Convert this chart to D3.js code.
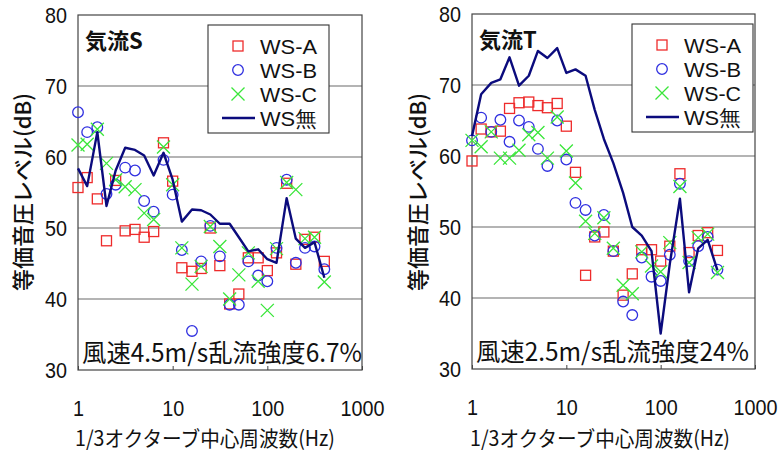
<!DOCTYPE html>
<html>
<head>
<meta charset="utf-8">
<script src="https://cdn.jsdelivr.net/npm/d3@7"></script>
<style>
  body { margin: 0; background: #fff; }
  text { fill: #111; }
</style>
</head>
<body>
<svg id="chart" width="783" height="455"></svg>
<script>
// 1/3 octave band centre frequencies (Hz)
const freqs = [1, 1.25, 1.6, 2, 2.5, 3.15, 4, 5, 6.3, 8, 10, 12.5, 16, 20, 25, 31.5, 40, 50, 63, 80, 100, 125, 160, 200, 250, 315, 400];

// Flow S: equivalent sound pressure level (dB)
const sA    = [55.7, 57.1, 54.1, 48.2, 56.7, 49.6, 49.8, 48.7, 49.5, 62.0, 56.6, 44.4, 43.9, 44.3, 50.0, 44.7, 39.3, 40.7, 45.8, 45.8, 44.0, 46.5, 56.3, 44.9, 48.4, 48.7, 45.3];
const sB    = [66.3, 63.5, 64.2, 54.8, 56.1, 58.5, 58.1, 53.8, 52.3, 59.6, 54.7, 46.9, 35.5, 45.3, 50.3, 46.0, 39.2, 39.2, 45.3, 43.3, 42.5, 47.2, 56.8, 45.1, 47.2, 47.4, 44.2];
const sC    = [61.7, 61.8, 63.9, 59.1, 56.8, 55.8, 55.4, 52.1, 51.2, 61.4, 56.1, 47.2, 42.1, 44.6, 50.2, 47.4, 40.0, 43.4, 46.5, 42.5, 38.4, 47.1, 56.4, 55.4, 48.5, 48.7, 42.4];
const sNone = [58.4, 55.9, 63.5, 53.1, 58.1, 61.3, 61.0, 60.2, 57.4, 60.6, 56.8, 50.9, 52.6, 52.5, 51.9, 50.6, 50.6, 48.7, 46.7, 47.0, 45.6, 45.1, 54.2, 48.5, 47.2, 48.0, 43.0];

// Flow T
const tA    = [59.3, 63.8, 63.4, 63.5, 66.7, 67.5, 67.6, 67.1, 66.8, 67.4, 64.2, 57.7, 43.2, 48.6, 49.3, 46.6, 40.4, 43.4, 46.8, 46.8, 45.2, 47.3, 57.5, 46.4, 48.8, 49.2, 46.7];
const tB    = [62.2, 65.4, 63.4, 65.1, 62.0, 65.0, 64.1, 61.0, 58.6, 65.0, 59.5, 53.4, 52.4, 48.8, 51.7, 46.6, 39.5, 37.6, 45.7, 43.0, 42.4, 46.1, 56.1, 45.2, 47.3, 48.6, 44.0];
const tC    = [62.2, 61.3, 63.4, 59.7, 59.7, 60.8, 63.0, 63.3, 59.7, 65.5, 60.7, 56.2, 50.8, 49.1, 51.3, 47.0, 41.8, 40.6, 46.5, 44.5, 43.7, 47.8, 55.7, 45.0, 48.5, 49.0, 43.6];
const tNone = [62.8, 68.7, 70.3, 70.8, 73.9, 69.9, 71.3, 74.8, 73.8, 75.2, 71.7, 72.2, 71.3, 66.5, 62.4, 59.0, 54.8, 50.0, 48.8, 46.6, 35.0, 44.8, 54.0, 40.8, 47.0, 48.2, 43.9];

const seriesNames = ["WS-A", "WS-B", "WS-C", "WS無"];
const xTicks = [1, 10, 100, 1000];
const yTicks = [30, 40, 50, 60, 70, 80];
const yDomain = [30, 80];
const xDomain = [1, 1000];
const panelTitles = ["気流S", "気流T"];
const panelNotes = ["風速4.5m/s乱流強度6.7%", "風速2.5m/s乱流強度24%"];
const yLabel = "等価音圧レベル(dB)";
const xLabel = "1/3オクターブ中心周波数(Hz)";

const COL_A = "#ee2b2b", COL_B = "#2f2fe0", COL_C = "#3ae63a", COL_N = "#0b0b7d";
const JP = "'Noto Sans CJK JP', 'Noto Sans', sans-serif";
const NUM = "'Liberation Sans', Arial, sans-serif";

const panels = [
  { x0: 78,  x1: 362, y0: 15, y1: 370, data: [sA, sB, sC, sNone],
    title: panelTitles[0], note: panelNotes[0], noteLen: 280,
    legend: { x: 208, y: 25, w: 121, h: 108 }, yTitleX: 21, xTitleX: 75 },
  { x0: 472, x1: 755, y0: 14, y1: 369, data: [tA, tB, tC, tNone],
    title: panelTitles[1], note: panelNotes[1], noteLen: 273,
    legend: { x: 632, y: 24, w: 121, h: 108 }, yTitleX: 416, xTitleX: 470 }
];

const svg = d3.select("#chart");

function drawSquare(g, cx, cy) {
  g.append("rect").attr("x", cx - 5).attr("y", cy - 5).attr("width", 10).attr("height", 10)
    .attr("fill", "none").attr("stroke", COL_A).attr("stroke-width", 1.3);
}
function drawCircle(g, cx, cy) {
  g.append("circle").attr("cx", cx).attr("cy", cy).attr("r", 5.3)
    .attr("fill", "none").attr("stroke", COL_B).attr("stroke-width", 1.3);
}
function drawCross(g, cx, cy) {
  const h = 6.5;
  g.append("path").attr("d", `M${cx - h},${cy - h}L${cx + h},${cy + h}M${cx - h},${cy + h}L${cx + h},${cy - h}`)
    .attr("fill", "none").attr("stroke", COL_C).attr("stroke-width", 1.3);
}
const markers = [drawSquare, drawCircle, drawCross];

// condensed numeric labels: fixed advance per digit
function styleNumbers(sel) {
  sel.attr("font-family", NUM).attr("font-size", 22).attr("fill", "#111")
    .attr("lengthAdjust", "spacingAndGlyphs")
    .attr("textLength", function () { return this.textContent.length * 11; });
}

panels.forEach(p => {
  const x = d3.scaleLog().domain(xDomain).range([p.x0, p.x1]);
  const y = d3.scaleLinear().domain(yDomain).range([p.y1, p.y0]);
  const g = svg.append("g");

  // horizontal grid lines
  g.append("g").selectAll("line").data(yTicks.slice(1, -1)).join("line")
    .attr("x1", p.x0).attr("x2", p.x1)
    .attr("y1", d => y(d)).attr("y2", d => y(d))
    .attr("stroke", "#6a6a6a").attr("stroke-width", 1.1);

  // plot frame
  g.append("rect").attr("x", p.x0).attr("y", p.y0)
    .attr("width", p.x1 - p.x0).attr("height", p.y1 - p.y0)
    .attr("fill", "none").attr("stroke", "#444").attr("stroke-width", 1.2);

  // y axis
  const ya = g.append("g").attr("transform", `translate(${p.x0},0)`)
    .call(d3.axisLeft(y).tickValues(yTicks).tickSize(0).tickPadding(11).tickFormat(d3.format("d")));
  ya.select(".domain").remove();
  styleNumbers(ya.selectAll("text"));

  // x axis (short inward ticks)
  const xa = g.append("g").attr("transform", `translate(0,${p.y1})`)
    .call(d3.axisBottom(x).tickValues(xTicks).tickSize(-4).tickPadding(30).tickFormat(d3.format("d")));
  xa.select(".domain").remove();
  xa.selectAll("line").attr("stroke", "#444");
  styleNumbers(xa.selectAll("text"));

  // axis titles
  g.append("text")
    .attr("transform", `translate(${p.yTitleX},192) rotate(-90)`)
    .attr("text-anchor", "middle").attr("dominant-baseline", "central")
    .attr("font-family", JP).attr("font-size", 22).attr("font-weight", 500).text(yLabel);
  g.append("text").attr("x", p.xTitleX).attr("y", 446)
    .attr("font-family", JP).attr("font-size", 21)
    .attr("textLength", 260).attr("lengthAdjust", "spacingAndGlyphs").text(xLabel);

  // measured series: markers
  p.data.slice(0, 3).forEach((vals, k) => {
    const mg = g.append("g");
    vals.forEach((v, i) => markers[k](mg, x(freqs[i]), y(v)));
  });

  // reference (no windscreen) line
  g.append("path").datum(p.data[3])
    .attr("d", d3.line().x((d, i) => x(freqs[i])).y(d => y(d)))
    .attr("fill", "none").attr("stroke", COL_N).attr("stroke-width", 2.4)
    .attr("stroke-linejoin", "round");

  // panel title and condition note
  g.append("text").attr("x", p.x0 + 7).attr("y", p.y0 + 34)
    .attr("font-family", JP).attr("font-size", 22).attr("font-weight", "bold").text(p.title);
  g.append("text").attr("x", p.x0 + 4).attr("y", p.y1 - 8)
    .attr("font-family", JP).attr("font-size", 25)
    .attr("textLength", p.noteLen).attr("lengthAdjust", "spacingAndGlyphs").text(p.note);

  // legend
  const L = p.legend;
  const lg = g.append("g");
  lg.append("rect").attr("x", L.x).attr("y", L.y).attr("width", L.w).attr("height", L.h)
    .attr("fill", "#fff").attr("stroke", "#333").attr("stroke-width", 1.1);
  seriesNames.forEach((name, k) => {
    const cy = L.y + 21 + k * 24;
    const mx = L.x + 30;
    if (k < 3) markers[k](lg, mx, cy);
    else lg.append("line").attr("x1", L.x + 14).attr("x2", L.x + 47).attr("y1", cy).attr("y2", cy)
      .attr("stroke", COL_N).attr("stroke-width", 2.4);
    lg.append("text").attr("x", L.x + 52).attr("y", cy).attr("dominant-baseline", "central")
      .attr("font-family", NUM).attr("font-size", 21)
      .attr("textLength", 57).attr("lengthAdjust", "spacingAndGlyphs").text(name);
  });
});
</script>
</body>
</html>
